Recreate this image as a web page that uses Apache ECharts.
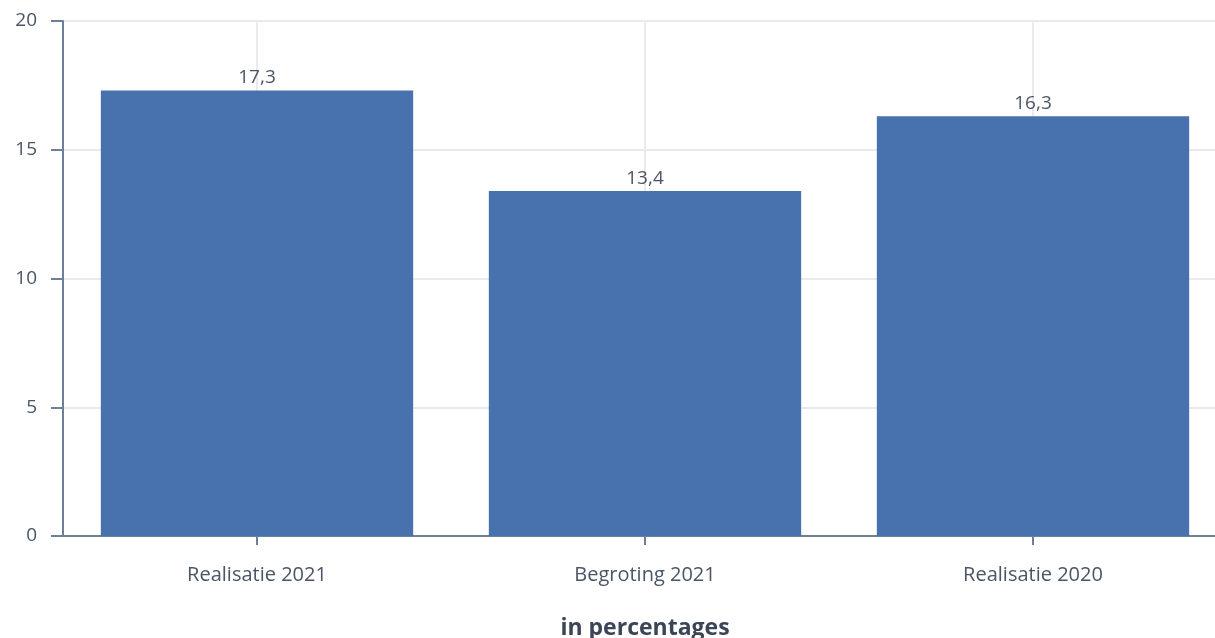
<!DOCTYPE html>
<html>
<head>
<meta charset="utf-8">
<script src="https://cdn.jsdelivr.net/npm/echarts@6/dist/echarts.min.js"></script>
<style>
  html, body { margin: 0; padding: 0; background: #ffffff; }
  #chart { width: 1215px; height: 638px; }
</style>
</head>
<body>
<div id="chart"></div>
<script>
// Categories and values (percentages)
const categories = ['Realisatie 2021', 'Begroting 2021', 'Realisatie 2020'];
const values = [17.3, 13.4, 16.3];
const yTicks = { min: 0, max: 20, interval: 5 };
const axisTitle = 'in percentages';

const FONT = '"Open Sans", Lato, sans-serif';
const TEXT = '#4a5566';
const AXIS = '#6e7f99';
const GRID = '#e9e9ef';

const chart = echarts.init(document.getElementById('chart'), null, { renderer: 'canvas' });

chart.setOption({
  animation: false,
  grid: { left: 63, right: -12, top: 21, bottom: 102, containLabel: false, outerBoundsMode: 'none' },
  xAxis: {
    type: 'category',
    data: categories,
    name: axisTitle,
    nameLocation: 'middle',
    nameGap: 81,
    nameTextStyle: { fontFamily: FONT, fontSize: 23, fontWeight: 'bold', color: '#3b4555' },
    axisLine: { show: true, lineStyle: { color: AXIS, width: 2 } },
    axisTick: { show: true, alignWithLabel: true, length: 9, lineStyle: { color: AXIS, width: 2 } },
    axisLabel: { fontFamily: FONT, fontSize: 20, color: TEXT, margin: 29 },
    splitLine: { show: true, alignWithLabel: true, lineStyle: { color: GRID, width: 2 } }
  },
  yAxis: {
    type: 'value',
    min: yTicks.min,
    max: yTicks.max,
    interval: yTicks.interval,
    axisLine: { show: true, lineStyle: { color: AXIS, width: 2 } },
    axisTick: { show: true, length: 12, lineStyle: { color: AXIS, width: 2 } },
    axisLabel: { fontFamily: FONT, fontSize: 19, color: TEXT, margin: 26 },
    splitLine: { show: true, lineStyle: { color: GRID, width: 2 } }
  },
  series: [{
    type: 'bar',
    data: values,
    barWidth: '80.5%',
    itemStyle: { color: '#4872ad' },
    label: {
      show: true,
      position: 'top',
      distance: 3,
      fontFamily: FONT,
      fontSize: 19,
      color: TEXT,
      formatter: p => p.value.toFixed(1).replace('.', ',')
    }
  }]
});
</script>
</body>
</html>
